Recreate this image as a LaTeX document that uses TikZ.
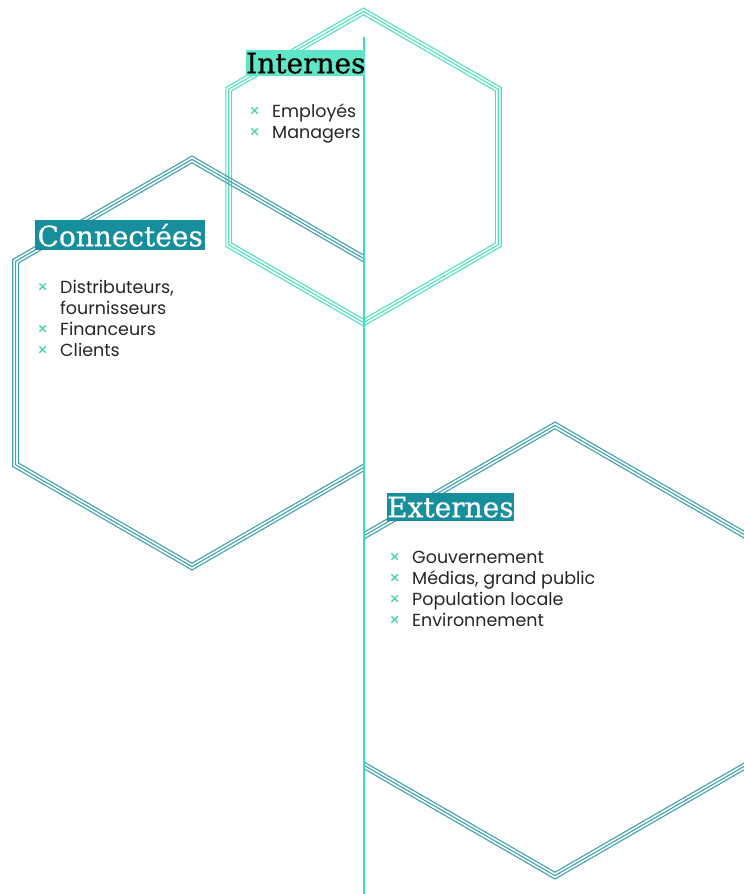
\documentclass[tikz,border=0pt]{standalone}
\usepackage{fontspec}
\setmainfont{Poppins}
\newfontfamily\titlefont[FakeBold=0.6]{DejaVu Serif}
\definecolor{vcol}{HTML}{38DEC0}
\definecolor{topc}{HTML}{52E0C2}
\definecolor{tealc}{HTML}{40A2AE}
\definecolor{intfill}{HTML}{5FE5C8}
\definecolor{tealfill}{HTML}{168E9B}
\definecolor{bul}{HTML}{3ED4B2}
\definecolor{txt}{HTML}{262626}
\newcommand\hexthree[4]{%
  \foreach \dd in {0,3.4,6.8}{%
    \pgfmathsetmacro\rr{#3-\dd}%
    \draw[hexline,#4] (#1,#2) +(90:\rr) -- +(30:\rr) -- +(-30:\rr) -- +(-90:\rr) -- +(-150:\rr) -- +(150:\rr) -- cycle;}}
\newcommand\bx{\textcolor{bul}{×}}
\begin{document}
\begin{tikzpicture}[x=1pt,y=-1pt,
  hexline/.style={line width=1.1pt, line join=miter},
  vline/.style={vcol, line width=1.7pt},
  titlebox/.style={anchor=north west, inner sep=0pt, font=\titlefont\fontsize{28}{28}\selectfont},
  itemlist/.style={anchor=north west, inner sep=0pt, font=\fontsize{17.5}{21}\selectfont, text=txt}]
\useasboundingbox (0,0) rectangle (744,894);
\fill[white] (0,0) rectangle (744,894);
% hexagons
\hexthree{363.5}{167}{159}{topc}
\begin{scope}
  \clip (0,0) rectangle (363.5,894);
  \hexthree{192}{363}{207}{tealc}
\end{scope}
\begin{scope}
  \clip (364.5,0) rectangle (744,894);
  \hexthree{555}{650.5}{228.5}{tealc}
\end{scope}
% vertical line
\coordinate (vtop) at (364,37);
\coordinate (vbot) at (364,894);
\draw[vline] (vtop) -- (vbot);
% titles
\node[titlebox, fill=intfill, text=black, minimum width=118pt, minimum height=26pt] (tint) at (246,50) {Internes};
\node[titlebox, fill=tealfill, text=white, minimum width=170pt, minimum height=30pt] (tcon) at (35,220) {Connectées};
\node[titlebox, fill=tealfill, text=white, minimum width=126pt, minimum height=28pt] (text) at (387,493) {Externes};
% lists
\node[itemlist] (lint) at (249,102.3) {\begin{tabular}{@{}p{23pt}@{}l@{}}
\bx & Employés\\
\bx & Managers
\end{tabular}};
\node[itemlist] (lcon) at (37,278.3) {\begin{tabular}{@{}p{23pt}@{}l@{}}
\bx & Distributeurs,\\
 & fournisseurs\\
\bx & Financeurs\\
\bx & Clients
\end{tabular}};
\node[itemlist] (lext) at (389,548.3) {\begin{tabular}{@{}p{23pt}@{}l@{}}
\bx & Gouvernement\\
\bx & Médias, grand public\\
\bx & Population locale\\
\bx & Environnement
\end{tabular}};
\end{tikzpicture}
\end{document}
